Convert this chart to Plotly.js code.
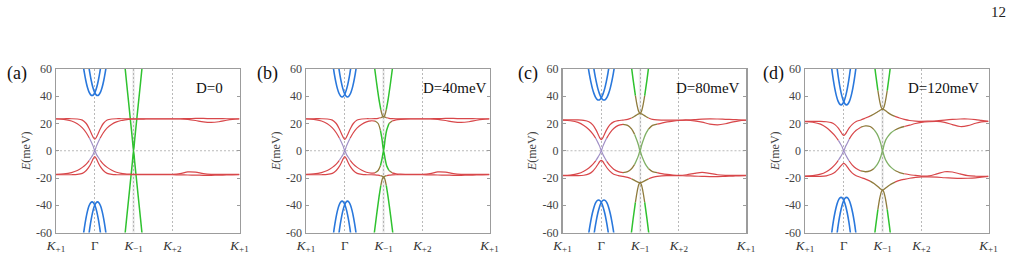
<!DOCTYPE html>
<html>
<head>
<meta charset="utf-8">
<script src="https://cdn.plot.ly/plotly-3.0.1.min.js"></script>
<style>
  html, body { margin: 0; padding: 0; background: #ffffff; }
  #chart { width: 1016px; height: 253px; }
</style>
</head>
<body>
<div id="chart"></div>
<script>
// Path through the moire Brillouin zone: K+1 -> Gamma -> K-1 -> K+2 -> K+1
const pathTicks = [0, 1, 2, 3, 4.732];
const pathLabels = ['<i>K</i><sub>+1</sub>', 'Γ', '<i>K</i><sub>−1</sub>', '<i>K</i><sub>+2</sub>', '<i>K</i><sub>+1</sub>'];
const energyTicks = [-60, -40, -20, 0, 20, 40, 60];
const energyLabels = ['-60', '-40', '-20', '0', '20', '40', '60'];
const panelTags = ['(a)', '(b)', '(c)', '(d)'];
const fieldLabels = ['D=0', 'D=40meV', 'D=80meV', 'D=120meV'];
const pageNumber = '12';

// k grid for the four flat-band branches (upper outer/inner, lower outer/inner)
const kR = [0, 0.2, 0.4, 0.55, 0.68, 0.78, 0.86, 0.92, 0.96, 1.0, 1.04, 1.08, 1.14, 1.22, 1.32, 1.44,
  1.56, 1.68, 1.78, 1.86, 1.92, 1.96, 2.0, 2.04, 2.08, 2.14, 2.22, 2.32, 2.44, 2.56, 2.7, 2.85, 3.0,
  3.2, 3.4, 3.6, 3.8, 4.0, 4.2, 4.4, 4.55, 4.732];

// (a) D = 0
const uoA = [23.5, 23.5, 23.5, 23.3, 22.5, 20.0, 16.0, 12.2, 9.8, 8.5, 9.8, 12.2, 16.0, 20.0, 22.5, 23.3,
  23.5, 23.5, 23.5, 23.5, 23.5, 23.5, 23.5, 23.5, 23.5, 23.5, 23.5, 23.5, 23.5, 23.5, 23.5, 23.5, 23.5, 23.5,
  23.6, 23.7, 23.7, 23.6, 23.6, 23.5, 23.5, 23.5];
const uiA = [23.3, 23.0, 21.8, 19.8, 16.8, 13.2, 9.3, 5.8, 3.2, 0, 3.2, 5.8, 9.3, 13.2, 16.8, 19.5, 21.2, 22.2,
  22.7, 23.0, 23.1, 23.2, 23.2, 23.2, 23.2, 23.2, 23.2, 23.3, 23.3, 23.3, 23.3, 23.3, 23.3, 23.3, 23.0, 22.2,
  21.2, 20.8, 21.3, 22.4, 23.0, 23.3];
const loA = [-17.6, -17.6, -17.6, -17.4, -16.6, -14.5, -11.5, -8.2, -5.8, -4.3, -5.8, -8.2, -11.5, -14.5, -16.6,
  -17.4, -17.6, -17.6, -17.6, -17.6, -17.6, -17.6, -17.6, -17.6, -17.6, -17.6, -17.6, -17.6, -17.6, -17.6, -17.6,
  -17.6, -17.6, -17.7, -17.8, -17.9, -18.0, -18.0, -17.9, -17.8, -17.7, -17.6];
const liA = [-17.3, -17.0, -16.0, -14.5, -12.2, -9.8, -7.0, -4.4, -2.5, 0, -2.5, -4.4, -7.0, -9.8, -12.2, -14.3,
  -15.8, -16.6, -17.0, -17.2, -17.2, -17.3, -17.3, -17.3, -17.3, -17.3, -17.3, -17.3, -17.3, -17.3, -17.3, -17.3,
  -17.3, -16.8, -15.5, -15.7, -16.8, -17.3, -17.3, -17.3, -17.3, -17.3];

// (b) D = 40 meV
const uoB = [23.5, 23.5, 23.5, 23.3, 22.5, 20.0, 16.0, 12.2, 9.8, 8.3, 9.8, 12.2, 16.0, 20.0, 22.5, 23.3, 23.5,
  23.5, 23.6, 23.8, 24.2, 24.6, 25.0, 24.6, 24.2, 23.8, 23.6, 23.5, 23.5, 23.5, 23.5, 23.5, 23.5, 23.5, 23.6,
  23.7, 23.7, 23.6, 23.6, 23.5, 23.5, 23.5];
const uiB = [23.3, 23.0, 21.8, 19.8, 16.8, 13.2, 9.3, 5.8, 3.2, 0, 3.2, 5.8, 9.3, 13.2, 16.8, 19.5, 21.2, 22.0,
  21.8, 20.0, 15.0, 8.5, 0, 8.5, 15.0, 20.0, 21.8, 22.6, 23.0, 23.2, 23.3, 23.3, 23.3, 23.3, 23.0, 22.2, 21.2,
  20.8, 21.3, 22.4, 23.0, 23.3];
const loB = [-17.6, -17.6, -17.6, -17.4, -16.6, -14.5, -11.5, -8.2, -5.8, -4.3, -5.8, -8.2, -11.5, -14.5, -16.6,
  -17.4, -17.6, -17.6, -17.7, -17.9, -18.3, -18.7, -19.2, -18.7, -18.3, -17.9, -17.7, -17.6, -17.6, -17.6, -17.6,
  -17.6, -17.6, -17.7, -17.8, -17.9, -18.0, -18.0, -17.9, -17.8, -17.7, -17.6];
const liB = [-17.3, -17.0, -16.0, -14.5, -12.2, -9.8, -7.0, -4.4, -2.5, 0, -2.5, -4.4, -7.0, -9.8, -12.2, -14.3,
  -15.8, -16.4, -16.2, -14.5, -11.0, -6.0, 0, -6.0, -11.0, -14.5, -16.2, -16.9, -17.2, -17.3, -17.3, -17.3,
  -17.3, -16.8, -15.5, -15.7, -16.8, -17.3, -17.3, -17.3, -17.3, -17.3];

// (c) D = 80 meV
const uoC = [22.6, 22.6, 22.6, 22.3, 21.3, 19.0, 15.5, 12.0, 9.5, 8.2, 9.5, 12.0, 15.5, 19.0, 21.2, 22.1, 22.5,
  23.0, 24.0, 25.3, 26.4, 27.1, 27.5, 27.1, 26.4, 25.3, 24.0, 23.0, 22.6, 22.5, 22.5, 22.5, 22.5, 22.6, 22.8,
  23.2, 23.4, 23.3, 23.1, 22.9, 22.7, 22.5];
const uiC = [22.4, 22.0, 20.8, 18.6, 15.6, 12.4, 9.0, 5.6, 3.2, 0, 3.2, 5.8, 9.3, 13.0, 16.3, 18.6, 19.4, 18.6,
  16.0, 12.0, 7.5, 4.0, 0, 4.0, 7.5, 12.0, 16.0, 18.6, 19.6, 20.3, 21.2, 21.8, 22.2, 22.4, 22.0, 21.0, 19.6,
  19.0, 19.8, 21.2, 22.0, 22.4];
const loC = [-18.3, -18.3, -18.3, -18.0, -17.0, -15.0, -12.3, -9.7, -7.9, -7.0, -7.9, -9.7, -12.3, -15.0, -17.2,
  -18.2, -18.8, -19.5, -20.6, -21.8, -22.7, -23.2, -23.5, -23.2, -22.7, -21.8, -20.6, -19.5, -18.8, -18.4, -18.3,
  -18.3, -18.3, -18.4, -18.6, -18.8, -19.0, -19.0, -18.8, -18.6, -18.4, -18.3];
const liC = [-18.1, -17.8, -16.8, -15.0, -12.6, -10.0, -7.2, -4.5, -2.6, 0, -2.6, -4.8, -7.8, -10.8, -13.5, -15.3,
  -16.0, -15.3, -13.2, -10.0, -6.3, -3.4, 0, -3.4, -6.3, -10.0, -13.2, -15.3, -16.0, -16.8, -17.4, -17.8, -18.0,
  -17.6, -16.6, -15.8, -16.6, -17.6, -18.0, -18.1, -18.1, -18.1];

// (d) D = 120 meV
const uoD = [21.6, 21.6, 21.6, 21.3, 20.6, 19.0, 16.6, 14.0, 12.2, 11.2, 12.2, 14.0, 16.8, 19.4, 21.5, 22.6, 24.0,
  25.4, 27.0, 28.3, 29.4, 30.1, 30.6, 30.1, 29.3, 28.0, 26.5, 25.2, 24.0, 23.0, 22.2, 21.8, 21.6, 21.7, 21.9,
  22.5, 23.0, 23.3, 23.3, 22.9, 22.3, 21.6];
const uiD = [21.4, 20.9, 19.5, 17.0, 13.8, 10.8, 7.6, 4.8, 2.7, 0, 2.8, 5.0, 8.5, 12.0, 15.0, 17.3, 18.3, 17.8,
  15.5, 12.2, 8.2, 4.5, 0, 4.5, 7.8, 10.5, 13.2, 15.2, 16.8, 17.8, 18.8, 20.0, 20.8, 21.3, 21.5, 20.8, 19.2,
  17.8, 18.4, 20.2, 21.2, 21.6];
const loD = [-18.8, -18.8, -18.8, -18.4, -17.3, -15.6, -13.3, -11.3, -10.0, -9.3, -10.0, -11.4, -13.8, -16.4, -18.3,
  -19.6, -20.8, -22.3, -24.0, -25.8, -27.3, -28.3, -29.0, -28.3, -27.3, -26.0, -24.5, -23.0, -21.8, -21.0, -20.2,
  -19.6, -19.2, -19.2, -19.4, -19.8, -20.1, -20.3, -20.2, -19.9, -19.4, -18.8];
const liD = [-18.6, -18.2, -17.2, -15.4, -12.8, -10.0, -7.0, -4.3, -2.4, 0, -2.6, -4.7, -7.5, -10.5, -13.0, -14.8,
  -15.4, -14.8, -13.0, -10.2, -7.0, -3.8, 0, -3.8, -6.8, -9.6, -12.2, -14.5, -16.0, -16.9, -17.6, -18.1, -18.6,
  -18.5, -17.0, -15.4, -15.6, -17.0, -18.3, -18.7, -18.8, -18.8];

// Dirac cone at K-1: momentum offsets and energies of its two branches
const coneCenter = 2;
const coneDk = [-0.24, -0.18, -0.12, -0.07, -0.03, 0, 0.03, 0.07, 0.12, 0.18, 0.24];
const coneUpA = [67, 50, 33.5, 19.5, 8.4, 0, 8.4, 19.5, 33.5, 50, 67];
const coneDnA = [-67, -50, -33.5, -19.5, -8.4, 0, -8.4, -19.5, -33.5, -50, -67];
const coneUpB = [62.8, 49.9, 38.1, 30.1, 26.0, 25.0, 26.0, 30.1, 38.1, 49.9, 62.8];
const coneDnB = [-60.7, -47.3, -34.6, -25.5, -20.5, -19.2, -20.5, -25.5, -34.6, -47.3, -60.7];
const coneUpC = [65.6, 52.4, 40.5, 32.5, 28.5, 27.5, 28.5, 32.5, 40.5, 52.4, 65.6];
const coneDnC = [-64.0, -50.3, -37.9, -29.2, -24.6, -23.5, -24.6, -29.2, -37.9, -50.3, -64.0];
const coneUpD = [70.6, 56.7, 44.1, 35.8, 31.6, 30.6, 31.6, 35.8, 44.1, 56.7, 70.6];
const coneDnD = [-69.9, -55.9, -43.0, -34.5, -30.1, -29.0, -30.1, -34.5, -43.0, -55.9, -69.9];

// Remote bands near Gamma: two copies split by +/- blueSplit around Gamma
const gammaPoint = 1;
const blueSplit = 0.07;
const blueDk = [-0.28, -0.24, -0.2, -0.16, -0.12, -0.08, -0.04, 0, 0.04, 0.08, 0.12, 0.16, 0.2, 0.24, 0.28];
const blueUpA = [73.9, 65.0, 57.5, 51.4, 46.6, 43.2, 41.2, 40.5, 41.2, 43.2, 46.6, 51.4, 57.5, 65.0, 73.9];
const blueDnA = [-75.7, -65.5, -57.0, -50.0, -44.5, -40.6, -38.3, -37.5, -38.3, -40.6, -44.5, -50.0, -57.0, -65.5, -75.7];
const blueUpB = [72.7, 63.9, 56.5, 50.4, 45.6, 42.2, 40.2, 39.5, 40.2, 42.2, 45.6, 50.4, 56.5, 63.9, 72.7];
const blueDnB = [-75.0, -65.0, -56.5, -49.6, -44.1, -40.2, -37.8, -37.0, -37.8, -40.2, -44.1, -49.6, -56.5, -65.0, -75.0];
const blueUpC = [63.6, 56.6, 50.7, 45.8, 42.1, 39.4, 37.7, 37.2, 37.7, 39.4, 42.1, 45.8, 50.7, 56.6, 63.6];
const blueDnC = [-66.0, -58.1, -51.4, -45.9, -41.6, -38.5, -36.7, -36.1, -36.7, -38.5, -41.6, -45.9, -51.4, -58.1, -66.0];
const blueUpD = [69.5, 60.0, 52.0, 45.4, 40.3, 36.6, 34.4, 33.7, 34.4, 36.6, 40.3, 45.4, 52.0, 60.0, 69.5];
const blueDnD = [-69.3, -60.0, -52.1, -45.7, -40.7, -37.1, -34.9, -34.2, -34.9, -37.1, -40.7, -45.7, -52.1, -60.0, -69.3];

// Orbital-character tints along each branch: [first index, last index, tint]
const tintGamma = [[7, 11, 'p']];
const tintInnerB = [[7, 11, 'p'], [19, 25, 'o'], [20, 24, 'g']];
const tintOuterB = [[21, 23, 'o']];
const tintInnerC = [[7, 11, 'p'], [17, 27, 'o'], [19, 25, 'm']];
const tintOuterC = [[19, 25, 'o']];
const tintInnerD = [[7, 11, 'p'], [16, 28, 'o'], [18, 26, 'm']];
const tintOuterD = [[18, 26, 'o']];
const tintConeB = [[4, 6, 'o']];
const tintConeCD = [[3, 7, 'o']];

const palette = { r: '#d8474a', p: '#a08fc6', g: '#2fc22f', o: '#8f7b3c', m: '#7fb065', b: '#2a78dc' };
const widths = { r: 1.2, p: 1.2, g: 1.5, o: 1.3, m: 1.3, b: 1.6 };

function tintArray(n, base, runs) {
  const c = new Array(n).fill(base);
  (runs || []).forEach(([a, b, t]) => { for (let i = a; i <= b; i++) c[i] = t; });
  return c;
}

// Split one branch into runs of equal tint so each run keeps its own colour
function branch(k, E, base, runs, ax) {
  const c = tintArray(k.length, base, runs);
  const seg = [];
  for (let i = 0; i < k.length - 1; i++) seg.push(c[i] === base ? c[i + 1] : c[i]);
  const out = [];
  let s = 0;
  for (let i = 1; i <= seg.length; i++) {
    if (i === seg.length || seg[i] !== seg[s]) {
      out.push({
        type: 'scatter', mode: 'lines', xaxis: 'x' + ax.n, yaxis: 'y' + ax.n,
        x: k.slice(s, i + 1), y: E.slice(s, i + 1),
        line: { color: palette[seg[s]], width: widths[seg[s]], shape: 'spline', smoothing: 0.8 },
        hoverinfo: 'skip', showlegend: false
      });
      s = i;
    }
  }
  return out;
}

const panels = [
  { uo: uoA, ui: uiA, lo: loA, li: liA, tIn: tintGamma, tOut: [], up: coneUpA, dn: coneDnA, tCone: [], bu: blueUpA, bd: blueDnA },
  { uo: uoB, ui: uiB, lo: loB, li: liB, tIn: tintInnerB, tOut: tintOuterB, up: coneUpB, dn: coneDnB, tCone: tintConeB, bu: blueUpB, bd: blueDnB },
  { uo: uoC, ui: uiC, lo: loC, li: liC, tIn: tintInnerC, tOut: tintOuterC, up: coneUpC, dn: coneDnC, tCone: tintConeCD, bu: blueUpC, bd: blueDnC },
  { uo: uoD, ui: uiD, lo: loD, li: liD, tIn: tintInnerD, tOut: tintOuterD, up: coneUpD, dn: coneDnD, tCone: tintConeCD, bu: blueUpD, bd: blueDnD }
];

// Page geometry in pixels
const W = 1016, H = 253;
const plotLeft = [56, 306, 562.5, 805];
const plotWidth = 183.5;
const plotTop = 69, plotBottom = 232.5;
const tagX = [17, 267, 528, 773];
const fieldX = [209, 455, 708, 943];

const serif = 'Liberation Serif, DejaVu Serif, serif';
const traces = [];
const layout = {
  width: W, height: H,
  margin: { l: 0, r: 0, t: 0, b: 0 },
  paper_bgcolor: '#ffffff', plot_bgcolor: '#ffffff',
  font: { family: serif, color: '#222' },
  showlegend: false,
  shapes: [], annotations: []
};

panels.forEach((p, i) => {
  const n = i + 1;
  const ax = { n: n === 1 ? '' : String(n) };
  const sfx = ax.n;
  const kBlueL = blueDk.map(d => gammaPoint - blueSplit + d);
  const kBlueR = blueDk.map(d => gammaPoint + blueSplit + d);
  const kCone = coneDk.map(d => coneCenter + d);

  traces.push(...branch(kBlueL, p.bu, 'b', [], ax), ...branch(kBlueR, p.bu, 'b', [], ax));
  traces.push(...branch(kBlueL, p.bd, 'b', [], ax), ...branch(kBlueR, p.bd, 'b', [], ax));
  traces.push(...branch(kCone, p.up, 'g', p.tCone, ax), ...branch(kCone, p.dn, 'g', p.tCone, ax));
  traces.push(...branch(kR, p.uo, 'r', p.tOut, ax), ...branch(kR, p.lo, 'r', p.tOut, ax));
  traces.push(...branch(kR, p.ui, 'r', p.tIn, ax), ...branch(kR, p.li, 'r', p.tIn, ax));

  layout['xaxis' + sfx] = {
    domain: [plotLeft[i] / W, (plotLeft[i] + plotWidth) / W],
    anchor: 'y' + sfx,
    range: [pathTicks[0], pathTicks[pathTicks.length - 1]],
    tickmode: 'array', tickvals: pathTicks, ticktext: pathLabels,
    ticks: '', showgrid: true, gridcolor: '#a8a8a8', gridwidth: 0.8, griddash: '2px,2px',
    zeroline: false, showline: true, mirror: true, linecolor: '#9c9c9c', linewidth: 1.5,
    tickfont: { family: serif, size: 13, color: '#333' },
    fixedrange: true
  };
  layout['yaxis' + sfx] = {
    domain: [1 - plotBottom / H, 1 - plotTop / H],
    anchor: 'x' + sfx,
    range: [-60, 60],
    tickmode: 'array', tickvals: energyTicks, ticktext: energyLabels,
    ticks: 'inside', ticklen: 3, tickcolor: '#9c9c9c', tickwidth: 1,
    showgrid: false, zeroline: false, showline: true, mirror: 'ticks', linecolor: '#9c9c9c', linewidth: 1.5,
    tickfont: { family: serif, size: 12, color: '#444' },
    title: { text: '<i>E</i>(meV)', font: { family: serif, size: 12, color: '#444' }, standoff: 3 },
    fixedrange: true
  };
  // faint band behind the K-1 line
  layout.shapes.push({
    type: 'line', xref: 'x' + sfx, yref: 'y' + sfx + ' domain',
    x0: pathTicks[2], x1: pathTicks[2], y0: 0, y1: 1, layer: 'below',
    line: { color: 'rgba(205,205,205,0.4)', width: 2.5 }
  });
  layout.shapes.push({
    type: 'line', xref: 'x' + sfx + ' domain', yref: 'y' + sfx,
    x0: 0, x1: 1, y0: 0, y1: 0, layer: 'below',
    line: { color: '#a8a8a8', width: 0.8, dash: '2px,2px' }
  });
  layout.annotations.push({
    xref: 'paper', yref: 'paper', x: tagX[i] / W, y: 1 - 73 / H,
    xanchor: 'center', yanchor: 'middle', showarrow: false,
    text: panelTags[i], font: { family: serif, size: 18, color: '#111' }
  });
  layout.annotations.push({
    xref: 'paper', yref: 'paper', x: fieldX[i] / W, y: 1 - 88 / H,
    xanchor: 'center', yanchor: 'middle', showarrow: false,
    text: fieldLabels[i], font: { family: serif, size: 15, color: '#111' }
  });
});

layout.annotations.push({
  xref: 'paper', yref: 'paper', x: 998 / W, y: 1 - 12 / H,
  xanchor: 'center', yanchor: 'middle', showarrow: false,
  text: pageNumber, font: { family: serif, size: 15, color: '#222' }
});

Plotly.newPlot('chart', traces, layout, { staticPlot: true, displayModeBar: false });
</script>
</body>
</html>
